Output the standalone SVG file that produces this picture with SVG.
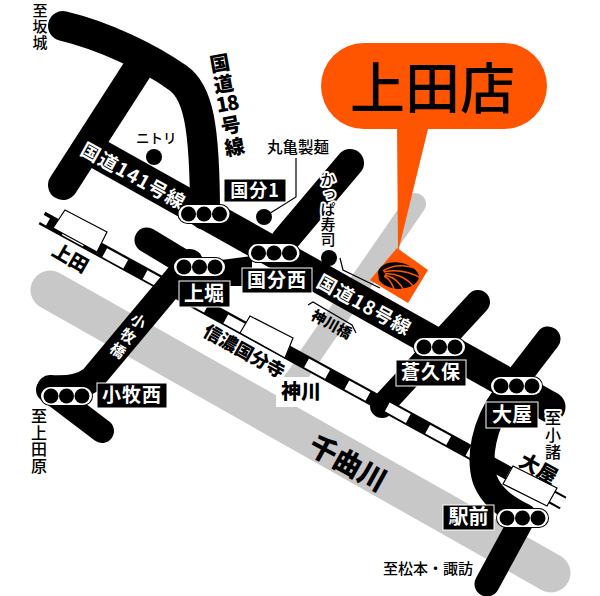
<svg xmlns="http://www.w3.org/2000/svg" width="600" height="596" viewBox="0 0 600 596">
<style>
text{font-family:"Noto Sans CJK JP","Noto Sans",sans-serif;fill:#000}
.b{font-weight:900}
.w{fill:#fff;font-weight:700}
.m{font-weight:500}
.halo{paint-order:stroke;stroke:#fff;stroke-width:4;stroke-linejoin:round}
.road{fill:none;stroke:#000;stroke-linecap:round;stroke-linejoin:round}
.river{fill:none;stroke:#c8c8c8;stroke-linecap:round}
.st{fill:#fff;stroke:#000;stroke-width:1.2}
.lamp{fill:#000}
.box{fill:#000;stroke:#fff;stroke-width:1}
.thin{fill:none;stroke:#000;stroke-width:1.2}
</style>
<defs>
<g id="light">
<rect x="-26.500" y="-10" width="53" height="20" rx="10" fill="#000"/>
<rect x="-25.500" y="-9" width="51" height="18" rx="9" fill="#fff"/>
<circle class="lamp" cx="-15.500" r="7.500"/><circle class="lamp" r="7.500"/><circle class="lamp" cx="15.500" r="7.500"/>
</g>
</defs>
<rect width="600" height="596" fill="#fff"/>
<g id="rivers">
<path class="river" stroke-width="39" d="M50,290L551,573"/>
<path class="river" stroke-width="22" d="M415,204L290,385"/>
<rect x="276" y="377" width="50" height="30" fill="#fff"/>
<path d="M199,330L225,312 300,355 272,392Z" fill="#fff"/>
</g>
<g id="connectors">
<path class="road" stroke-width="24" d="M382,406L478,302"/>
<path d="M42,218L563,503" fill="none" stroke="#000" stroke-width="14"/>
<path d="M45,220L563,503" fill="none" stroke="#fff" stroke-width="10" stroke-dasharray="24 22" stroke-dashoffset="-22"/>
<path d="M48,222L41,218" fill="none" stroke="#fff" stroke-width="8"/>
<path d="M552,497L565,504" fill="none" stroke="#fff" stroke-width="8"/>
<path class="road" stroke-width="30" d="M63,26C105,36 150,58 178,78C198,92 205,125 205,215"/>
<path class="road" stroke-width="30" d="M137,70L63,185"/>
<path d="M84,146L550,407" fill="none" stroke="#000" stroke-width="31"/>
<circle cx="550" cy="407" r="15.500"/>
<path class="road" stroke-width="28" d="M350,163L285,240"/>
<path class="road" stroke-width="25" d="M147,240L200,272"/>
<path d="M190,264L252,256 252,286 190,286Z"/>
<path class="road" stroke-width="26" d="M190,262L92,379Q78,390 50,388"/>
<path class="road" stroke-width="24" d="M48,390L102,431"/>
<path class="road" stroke-width="25" d="M548,339L505,395C483,425 478,458 485,480C492,498 508,508 524,516L487,584"/>
<path d="M340,258L343,270 380,288" class="thin"/>
<path d="M308,305L313,302 352,325 356,333" class="thin"/>
<path d="M296,158V197L264,217" class="thin"/>
</g>
<g id="stations">
<polygon class="st" points="65,210 107,232 97,252 53,228"/>
<polygon class="st" points="250,316 293,338 285,358 240,333"/>
<rect x="517" y="445" width="48" height="24" fill="#fff"/>
<polygon class="st" points="513,466 557,488 547,506 503,484"/>
<text class="b" font-size="19" transform="translate(67,264) rotate(30)" text-anchor="middle">上田</text>
<text class="b" font-size="18" transform="translate(241,357) rotate(29)" text-anchor="middle">信濃国分寺</text>
<text class="b" font-size="20" transform="translate(535,475) rotate(29)" text-anchor="middle">大屋</text>
</g>
<g id="dots">
<circle cx="154" cy="157" r="8"/>
<circle cx="264" cy="217" r="8"/>
<circle cx="329" cy="258" r="8"/>
</g>
<g id="balloon">
<path d="M397,125L429,125 398,252Z" fill="#ff5500"/>
<rect x="321" y="43" width="226" height="86" rx="43" fill="#ff5500"/>
<text font-size="55" font-weight="500" x="350" y="108">上田店</text>
</g>
<g id="shop">
<polygon points="370,280 397,248 428,270 408,303" fill="#ff5500"/>
<path d="M378,272C381,262 396,260 408,265C415,268 419,273 419,277C418,283 412,287 405,288C395,291 383,286 379,280Z"/>
<path d="M383,271C394,264 408,265 420,270M384,272C396,269 410,272 421,278M385,274C396,273 407,278 414,287M385,275C393,277 400,282 404,291M384,276C388,278 392,283 394,289" fill="none" stroke="#ff5500" stroke-width="1.500"/>
</g>
<g id="road-labels">
<text class="w" font-size="19" letter-spacing="1" transform="translate(130,182) rotate(29)" text-anchor="middle">国道141号線</text>
<text class="w" font-size="19" letter-spacing="1" transform="translate(361,311) rotate(29)" text-anchor="middle">国道18号線</text>
<text class="w" font-size="15" transform="translate(128,336) rotate(35)" x="-7.500 -7.500 -7.500" y="-12.600 5.400 23.400">小牧橋</text>
<text class="b" font-size="20" transform="translate(227,104) rotate(-10)" x="-10 -10 -11 0 -10 -10" y="-34 -13 7 7 29 51">国道18号線</text>
<text class="b" font-size="14.500" transform="translate(329,329) rotate(29)" text-anchor="middle">神川橋</text>
<text class="b" font-size="20" x="281" y="399">神川</text>
<text class="b" font-size="28" transform="translate(343,472) rotate(29)" text-anchor="middle">千曲川</text>
</g>
<g id="place-labels">
<text class="m" font-size="15" x="32.500 32.500 32.500" y="16 32 48">至坂城</text>
<text class="m" font-size="13.500" x="136" y="143">ニトリ</text>
<text class="m" font-size="15.500" x="267" y="153">丸亀製麺</text>
<text class="m halo" font-size="15" x="328" y="172" style="writing-mode:vertical-rl">かっぱ寿司</text>
<text class="m halo" font-size="16" x="545 545 545" y="424 441 458">至小諸</text>
<text class="m" font-size="15" x="383" y="574">至松本・諏訪</text>
<text class="m" font-size="16" x="31 31 31 31" y="422 439 455 472">至上田原</text>
</g>
<g id="n-kokubu1"><rect class="box" x="224" y="179" width="62" height="23"/><text class="w" font-size="18" letter-spacing="1" x="255" y="197" text-anchor="middle">国分1</text><use href="#light" x="204" y="214"/></g>
<g id="n-kokubunishi"><rect class="box" x="242" y="268" width="70" height="25"/><text class="w" font-size="19" letter-spacing="1" x="277" y="287" text-anchor="middle">国分西</text><use href="#light" x="274" y="253"/></g>
<g id="n-uwabori"><rect class="box" x="179" y="281" width="51" height="26"/><text class="w" font-size="20" x="204" y="301" text-anchor="middle">上堀</text><use href="#light" x="199.500" y="267"/></g>
<g id="n-komakinishi"><rect class="box" x="97" y="383" width="70" height="25"/><text class="w" font-size="19" letter-spacing="1" x="132" y="402" text-anchor="middle">小牧西</text><use href="#light" x="66.500" y="396"/></g>
<g id="n-sokubo"><rect class="box" x="396" y="360" width="70" height="26"/><text class="w" font-size="19" letter-spacing="1" x="431" y="379" text-anchor="middle">蒼久保</text><use href="#light" x="439.500" y="347"/></g>
<g id="n-oya"><rect class="box" x="486" y="402" width="52" height="26"/><text class="w" font-size="20" x="512" y="422" text-anchor="middle">大屋</text><use href="#light" x="516.500" y="386"/></g>
<g id="n-ekimae"><rect class="box" x="443" y="505" width="51" height="25"/><text class="w" font-size="20" x="468.500" y="524" text-anchor="middle">駅前</text><use href="#light" x="522.500" y="518"/></g>
</svg>
